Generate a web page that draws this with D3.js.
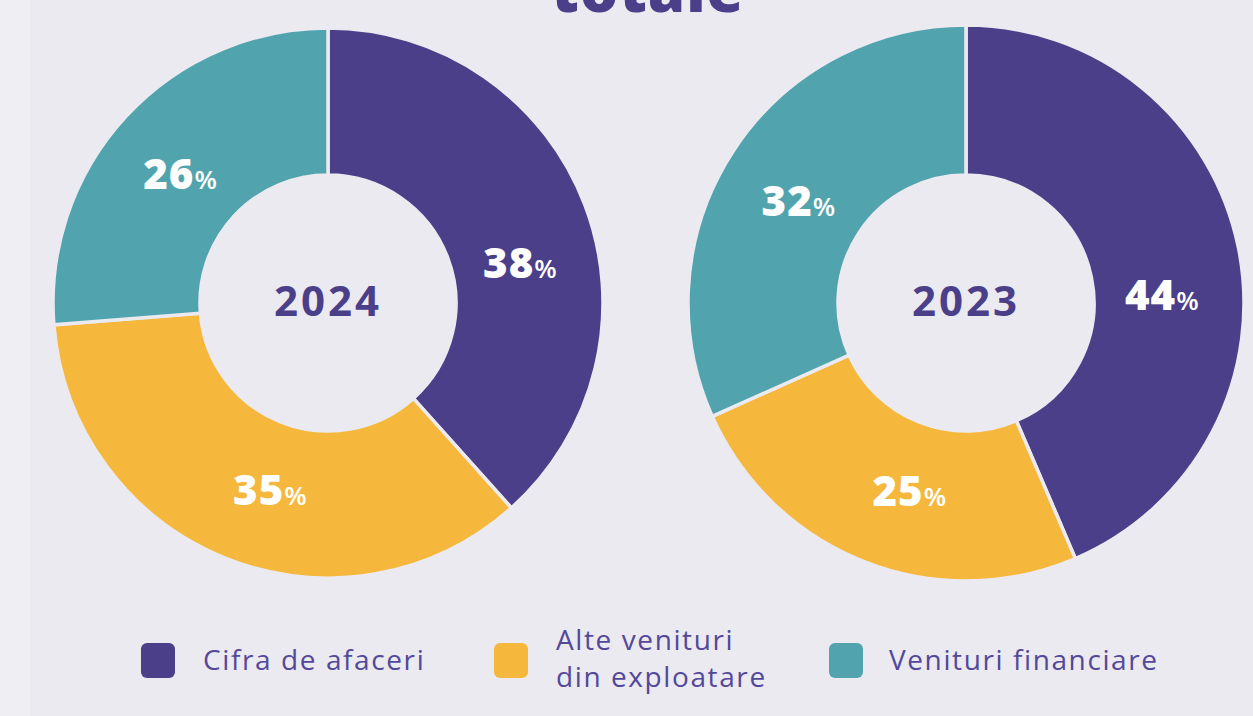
<!DOCTYPE html>
<html>
<head>
<meta charset="utf-8">
<script src="https://cdn.jsdelivr.net/npm/d3@7"></script>
<style>
  html, body { margin: 0; padding: 0; background: #ebeaf0; }
  svg { display: block; }
</style>
</head>
<body>
<svg id="chart" width="1253" height="716"></svg>
<script>
// data
const categories = ["Cifra de afaceri", "Alte venituri din exploatare", "Venituri financiare"];
const legendLines = [["Cifra de afaceri"], ["Alte venituri", "din exploatare"], ["Venituri financiare"]];
const years = ["2024", "2023"];
const values2024 = [38, 35, 26];
const values2023 = [44, 25, 32];

const width = 1253;
const height = 716;
const purple = "#4b3f8a";
const bg = "#ebeaf0";

const svg = d3.select("#chart");

const color = d3.scaleOrdinal()
  .domain(categories)
  .range([purple, "#f5b83d", "#51a4ad"]);

// lighter strip on the far left
svg.append("rect").attr("x", 0).attr("y", 0).attr("width", 30).attr("height", height).attr("fill", "#efeef3");

// cut off title
svg.append("text")
  .attr("x", 648)
  .attr("y", 12)
  .attr("text-anchor", "middle")
  .style("font-family", "'Open Sans', sans-serif")
  .style("font-weight", 800)
  .style("font-size", "60px")
  .style("letter-spacing", "1px")
  .attr("fill", purple)
  .text("totale");

const pie = d3.pie().sort(null).value(d => d.value);

// donut centres / radii
const donuts = [
  { year: years[0], values: values2024, cx: 328, cy: 303, r: 275 },
  { year: years[1], values: values2023, cx: 966, cy: 303, r: 278 }
];

// small angular nudges for the percent labels (radians)
const labelNudge = [0.16, -0.08, -0.03];

donuts.forEach(dn => {
  const data = categories.map((c, i) => ({ cat: c, value: dn.values[i], i: i }));
  const arcs = pie(data);
  const arc = d3.arc().innerRadius(128).outerRadius(dn.r);
  const g = svg.append("g").attr("transform", `translate(${dn.cx},${dn.cy})`);

  g.selectAll("path")
    .data(arcs)
    .enter()
    .append("path")
    .attr("d", arc)
    .attr("fill", d => color(d.data.cat))
    .attr("stroke", bg)
    .attr("stroke-width", 3.5);

  // percentage labels
  const lr = 196;
  const lbl = g.selectAll("text.pct")
    .data(arcs)
    .enter()
    .append("text")
    .attr("class", "pct")
    .attr("transform", d => {
      const a = (d.startAngle + d.endAngle) / 2 + labelNudge[d.data.i];
      return `translate(${lr * Math.sin(a)},${-lr * Math.cos(a) + 15})`;
    })
    .attr("text-anchor", "middle")
    .style("font-family", "'Open Sans', sans-serif")
    .attr("fill", "#fff");
  lbl.append("tspan")
    .style("font-weight", 800)
    .style("font-size", "42px")
    .style("letter-spacing", "1px")
    .text(d => d.data.value);
  lbl.append("tspan")
    .style("font-weight", 600)
    .style("font-size", "26px")
    .text("%");

  // year in the hole
  g.append("text")
    .attr("y", 13)
    .attr("text-anchor", "middle")
    .style("font-family", "'Open Sans', sans-serif")
    .style("font-weight", 700)
    .style("font-size", "42px")
    .style("letter-spacing", "3px")
    .attr("fill", purple)
    .text(dn.year);
});

// legend
const legendX = d3.scaleOrdinal().domain(categories).range([141, 494, 829]);

const lg = svg.append("g")
  .selectAll("g")
  .data(categories)
  .enter()
  .append("g")
  .attr("transform", d => `translate(${legendX(d)},643)`);

lg.append("rect")
  .attr("width", 34)
  .attr("height", 35)
  .attr("rx", 6)
  .attr("fill", d => color(d));

lg.append("text")
  .style("font-family", "'Open Sans', sans-serif")
  .style("font-size", "28px")
  .style("letter-spacing", "1.6px")
  .attr("fill", "#54489a")
  .each(function (d, i) {
    const lines = legendLines[i];
    const t = d3.select(this);
    lines.forEach((ln, j) => {
      t.append("tspan")
        .attr("x", i === 2 ? 60 : 62)
        .attr("y", lines.length === 1 ? 27 : 7 + j * 37)
        .text(ln);
    });
  });
</script>
</body>
</html>
